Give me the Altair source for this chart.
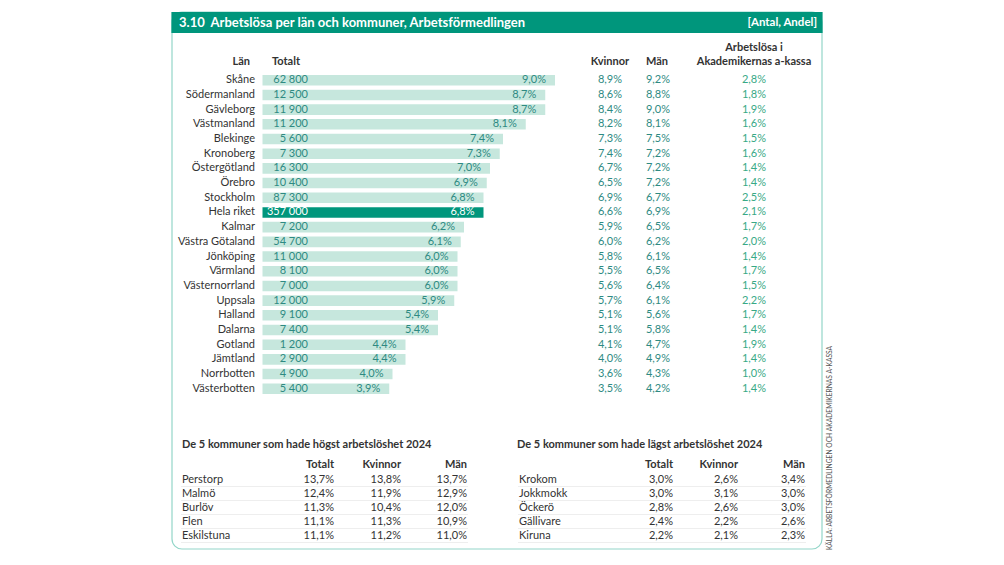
import altair as alt
import pandas as pd

# ---------------- data ----------------
lan = ["Skåne", "Södermanland", "Gävleborg", "Västmanland", "Blekinge", "Kronoberg",
       "Östergötland", "Örebro", "Stockholm", "Hela riket", "Kalmar", "Västra Götaland",
       "Jönköping", "Värmland", "Västernorrland", "Uppsala", "Halland", "Dalarna",
       "Gotland", "Jämtland", "Norrbotten", "Västerbotten"]
totalt_antal = [62800, 12500, 11900, 11200, 5600, 7300, 16300, 10400, 87300, 357000, 7200,
                54700, 11000, 8100, 7000, 12000, 9100, 7400, 1200, 2900, 4900, 5400]
totalt_andel = [9.0, 8.7, 8.7, 8.1, 7.4, 7.3, 7.0, 6.9, 6.8, 6.8, 6.2, 6.1, 6.0, 6.0, 6.0,
                5.9, 5.4, 5.4, 4.4, 4.4, 4.0, 3.9]
kvinnor = [8.9, 8.6, 8.4, 8.2, 7.3, 7.4, 6.7, 6.5, 6.9, 6.6, 5.9, 6.0, 5.8, 5.5, 5.6, 5.7,
           5.1, 5.1, 4.1, 4.0, 3.6, 3.5]
man = [9.2, 8.8, 9.0, 8.1, 7.5, 7.2, 7.2, 7.2, 6.7, 6.9, 6.5, 6.2, 6.1, 6.5, 6.4, 6.1, 5.6,
       5.8, 4.7, 4.9, 4.3, 4.2]
akademikerna = [2.8, 1.8, 1.9, 1.6, 1.5, 1.6, 1.4, 1.4, 2.5, 2.1, 1.7, 2.0, 1.4, 1.7, 1.5,
                2.2, 1.7, 1.4, 1.9, 1.4, 1.0, 1.4]

hog_kommun = ["Perstorp", "Malmö", "Burlöv", "Flen", "Eskilstuna"]
hog_totalt = [13.7, 12.4, 11.3, 11.1, 11.1]
hog_kvinnor = [13.8, 11.9, 10.4, 11.3, 11.2]
hog_man = [13.7, 12.9, 12.0, 10.9, 11.0]

lag_kommun = ["Krokom", "Jokkmokk", "Öckerö", "Gällivare", "Kiruna"]
lag_totalt = [3.0, 3.0, 2.8, 2.4, 2.2]
lag_kvinnor = [2.6, 3.1, 2.6, 2.2, 2.1]
lag_man = [3.4, 3.0, 3.0, 2.6, 2.3]

TITLE = "3.10\u00a0\u00a0Arbetslösa per län och kommuner, Arbetsförmedlingen"
UNIT = "[Antal, Andel]"
SOURCE = "KÄLLA: ARBETSFÖRMEDLINGEN OCH AKADEMIKERNAS A-KASSA"

# ---------------- helpers ----------------
FONT = "Lato"
GREEN = "#00967c"
LIGHT = "#c6e7dd"
TEAL = "#2e8a82"
AKAD = "#38a986"
DARK = "#333333"
BORDER = "#93d6c9"
O = 8  # page margin


def pct(v):
    return f"{v:.1f}".replace(".", ",") + "%"


def num(v):
    return f"{v:,}".replace(",", " ")


def label(text, x, y, align="left", size=11, weight="normal", color=DARK, **kw):
    return alt.Chart(pd.DataFrame({"t": [text]})).mark_text(
        align=align, baseline="middle", font=FONT, fontSize=size,
        fontWeight=weight, color=color, **kw
    ).encode(x=alt.value(x - O), y=alt.value(y - O), text="t:N")


df = pd.DataFrame({
    "lan": lan,
    "antal": [num(v) for v in totalt_antal],
    "andel": totalt_andel,
    "andel_txt": [pct(v) for v in totalt_andel],
    "kvinnor": [pct(v) for v in kvinnor],
    "man": [pct(v) for v in man],
    "akad": [pct(v) for v in akademikerna],
})

is_total = alt.datum.lan == "Hela riket"
ys = alt.Y("lan:N", sort=lan, axis=None,
           scale=alt.Scale(type="band", domain=lan, range=[72.9 - O, 396.1 - O],
                           paddingInner=0.28, paddingOuter=0.14))
xs = alt.X("andel:Q", axis=None,
           scale=alt.Scale(domain=[0, 10], range=[262.5 - O, 262.5 - O + 325]))

base = alt.Chart(df)
bars = base.mark_bar(cornerRadius=0).encode(
    x=xs, y=ys,
    color=alt.condition(is_total, alt.value(GREEN), alt.value(LIGHT)),
)
bar_pct = base.mark_text(align="right", baseline="middle", dx=-9, font=FONT, fontSize=11).encode(
    x=xs, y=ys, text="andel_txt:N",
    color=alt.condition(is_total, alt.value("white"), alt.value(TEAL)),
)
bar_num = base.mark_text(align="right", baseline="middle", font=FONT, fontSize=11).encode(
    x=alt.value(308 - O), y=ys, text="antal:N",
    color=alt.condition(is_total, alt.value("white"), alt.value(TEAL)),
)
lan_lbl = base.mark_text(align="right", baseline="middle", font=FONT, fontSize=11, color=DARK).encode(
    x=alt.value(255 - O), y=ys, text="lan:N")
kv_col = base.mark_text(align="center", baseline="middle", font=FONT, fontSize=11, color=TEAL).encode(
    x=alt.value(610 - O), y=ys, text="kvinnor:N")
man_col = base.mark_text(align="center", baseline="middle", font=FONT, fontSize=11, color=TEAL).encode(
    x=alt.value(658 - O), y=ys, text="man:N")
akad_col = base.mark_text(align="center", baseline="middle", font=FONT, fontSize=11, color=AKAD).encode(
    x=alt.value(754 - O), y=ys, text="akad:N")

bar_section = alt.layer(bars, bar_pct, bar_num, lan_lbl, kv_col, man_col, akad_col)

# ---------------- bottom tables ----------------
rows = list(range(5))
tab = pd.DataFrame({
    "row": rows,
    "sep": [r + 0.5 for r in rows],
    "h_k": hog_kommun, "h_t": [pct(v) for v in hog_totalt],
    "h_kv": [pct(v) for v in hog_kvinnor], "h_m": [pct(v) for v in hog_man],
    "l_k": lag_kommun, "l_t": [pct(v) for v in lag_totalt],
    "l_kv": [pct(v) for v in lag_kvinnor], "l_m": [pct(v) for v in lag_man],
})
ty = alt.Scale(domain=[0, 4], range=[479.5 - O, 535.5 - O])
tbase = alt.Chart(tab)


def tcol(field, x, align):
    return tbase.mark_text(align=align, baseline="middle", font=FONT, fontSize=11, color=DARK).encode(
        x=alt.value(x - O), y=alt.Y("row:Q", scale=ty, axis=None), text=f"{field}:N")


def seps(x1, x2):
    return tbase.mark_rule(color="#eeeeee", strokeWidth=1).encode(
        x=alt.value(x1 - O), x2=alt.value(x2 - O), y=alt.Y("sep:Q", scale=ty, axis=None))


table_section = alt.layer(
    seps(181, 468), seps(518, 806),
    tcol("h_k", 182, "left"), tcol("h_t", 334, "right"), tcol("h_kv", 401, "right"), tcol("h_m", 467, "right"),
    tcol("l_k", 519, "left"), tcol("l_t", 673, "right"), tcol("l_kv", 738, "right"), tcol("l_m", 805, "right"),
)

# ---------------- frame & headers ----------------
frame = alt.Chart(pd.DataFrame({"a": [0]})).mark_rect(
    fillOpacity=0, stroke=BORDER, strokeWidth=1.2, cornerRadius=10
).encode(x=alt.value(172 - O), x2=alt.value(822 - O), y=alt.value(12 - O), y2=alt.value(549 - O))
band = alt.Chart(pd.DataFrame({"a": [0]})).mark_rect(color=GREEN).encode(
    x=alt.value(171.4 - O), x2=alt.value(822.6 - O), y=alt.value(12 - O), y2=alt.value(33 - O))

headers = [
    label(TITLE, 179, 23, size=13, weight="bold", color="white"),
    label(UNIT, 817, 23, align="right", size=11.5, weight="bold", color="white"),
    label("Län", 250, 61.5, align="right", weight="bold"),
    label("Totalt", 272, 61.5, weight="bold"),
    label("Kvinnor", 610, 61.5, align="center", weight="bold"),
    label("Män", 657, 61.5, align="center", weight="bold"),
    label("Arbetslösa i", 754, 47.5, align="center", weight="bold"),
    label("Akademikernas a-kassa", 754, 61.5, align="center", weight="bold"),
    label("De 5 kommuner som hade högst arbetslöshet 2024", 182, 445, weight="bold"),
    label("Totalt", 334, 465, align="right", weight="bold"),
    label("Kvinnor", 401, 465, align="right", weight="bold"),
    label("Män", 467, 465, align="right", weight="bold"),
    label("De 5 kommuner som hade lägst arbetslöshet 2024", 517, 445, weight="bold"),
    label("Totalt", 673, 465, align="right", weight="bold"),
    label("Kvinnor", 738, 465, align="right", weight="bold"),
    label("Män", 805, 465, align="right", weight="bold"),
    label(SOURCE, 830, 448, align="center", size=6.7, color="#555555", angle=270),
]

chart = alt.layer(
    frame, band, bar_section, table_section, *headers
).resolve_scale(
    x="independent", y="independent", color="independent"
).properties(
    width=988, height=549, padding=0, autosize="none", background="white"
).configure_view(stroke=None)

chart.save("out.html", embed_options={"renderer": "svg", "actions": False})
